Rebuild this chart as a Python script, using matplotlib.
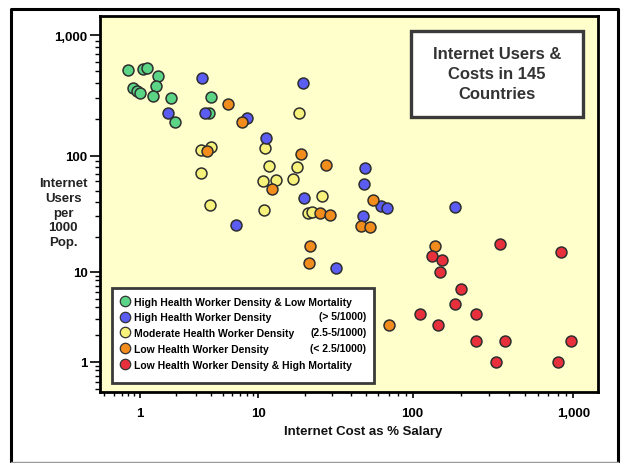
import numpy as np
import matplotlib
matplotlib.use('Agg')
import matplotlib.pyplot as plt
from matplotlib.lines import Line2D
from matplotlib.patches import Rectangle
from matplotlib.ticker import FixedLocator, FuncFormatter, NullFormatter

# --- internet cost (% of monthly salary) vs internet users per 1000 people, by health worker group

green_cost = [0.80, 1.07, 1.14, 1.43, 1.36, 0.87, 0.94, 1.0, 1.28, 1.82, 1.98, 3.96, 3.85]
green_users = [510, 522, 530, 457, 380, 364, 346, 333, 312, 299, 191, 305, 227]

blue_cost = [3.36, 1.73, 3.56, 8.03, 19.6, 11.3, 19.7, 6.44, 49.1, 48.2, 62.0, 67.9, 182.6, 47.9, 31.7]
blue_users = [438, 224, 227, 205, 400, 139, 43.2, 25.1, 78.8, 56.7, 37.1, 35.6, 35.9, 30.0, 10.8]

yellow_cost = [18.3, 3.28, 4.01, 11.1, 3.28, 11.8, 17.7, 10.7, 13.0, 16.9, 3.91, 10.9, 25.9, 21.1, 22.2]
yellow_users = [226, 112, 117, 116, 70.5, 81.5, 79.9, 60.9, 61.7, 62.6, 37.8, 33.8, 44.9, 32.3, 32.9]

orange_cost = [5.58, 7.24, 3.66, 18.9, 12.2, 27.4, 55.1, 25.1, 29.3, 46.2, 52.7, 21.5, 21.2, 138.2, 69.9]
orange_users = [268, 191, 110, 103, 51.9, 83.2, 41.8, 32.1, 31.0, 24.9, 24.1, 16.6, 11.8, 16.6, 2.54]

red_cost = [132.5, 152.9, 147.2, 351, 838, 200.7, 184.2, 111.0, 247.8, 143.7, 246.8, 375.5, 967.6, 328.7, 799.6]
red_users = [13.7, 12.7, 9.85, 17.4, 14.7, 6.42, 4.34, 3.39, 3.39, 2.54, 1.71, 1.71, 1.71, 0.985, 0.985]

labels = ['High Health Worker Density & Low Mortality',
          'High Health Worker Density',
          'Moderate Health Worker Density',
          'Low Health Worker Density',
          'Low Health Worker Density & High Mortality']
notes = ['', '(> 5/1000)', '(2.5-5/1000)', '(< 2.5/1000)', '']
colors = ['#5cd486', '#5a5cf2', '#f7f27c', '#f28c1c', '#e8303c']

# drawing order (later groups sit on top)
groups = [(green_cost, green_users, colors[0]),
          (yellow_cost, yellow_users, colors[2]),
          (blue_cost, blue_users, colors[1]),
          (orange_cost, orange_users, colors[3]),
          (red_cost, red_users, colors[4])]

BOLD = ['Liberation Sans', 'DejaVu Sans']


def decade_scale(widths):
    # log axis whose three decades get their own widths
    lk = np.array([-4.0, 0, 1, 2, 3, 7])
    w0, w1, w2 = widths
    sk = np.array([-4 * w0, 0, w0, w0 + w1, w0 + w1 + w2, w0 + w1 + 5 * w2])

    def fwd(v):
        v = np.clip(np.asarray(v, float), 1e-4, None)
        return np.interp(np.log10(v), lk, sk)

    def inv(s):
        return 10 ** np.interp(s, sk, lk)
    return fwd, inv


fig = plt.figure(figsize=(6.23, 4.64), dpi=100)
ax = fig.add_axes([100 / 623, 71 / 464, 498 / 623, 376 / 464])
ax.set_facecolor('#ffffcc')

ax.set_xscale('function', functions=decade_scale([118.3, 154.4, 160.6]))
ax.set_yscale('function', functions=decade_scale([90, 116, 120.7]))
ax.set_xlim(0.46, 1425)
ax.set_ylim(0.46, 1437)

for cost, users, col in groups:
    ax.scatter(cost, users, s=62, c=col, edgecolors='#2e2e2e', linewidths=1.1, zorder=3)

majors = [1, 10, 100, 1000]
minors = [m * 10.0 ** d for d in range(-1, 4) for m in range(2, 10)]
for axis in (ax.xaxis, ax.yaxis):
    axis.set_major_locator(FixedLocator(majors))
    axis.set_minor_locator(FixedLocator(minors))
    axis.set_major_formatter(FuncFormatter(lambda v, p: f'{v:,.0f}'))
    axis.set_minor_formatter(NullFormatter())

ax.tick_params(axis='y', which='major', length=7, width=1.2, pad=2)
ax.tick_params(axis='y', which='minor', length=3.5, width=1.0)
ax.tick_params(axis='x', which='major', length=4.5, width=1.2, pad=6)
ax.tick_params(axis='x', which='minor', length=3, width=1.0)
for lab in ax.get_xticklabels() + ax.get_yticklabels():
    lab.set_family(BOLD)
    lab.set_fontweight('bold')
    lab.set_fontsize(9.5)

for sp in ax.spines.values():
    sp.set_linewidth(2)
    sp.set_color('black')

fig.text(363 / 623, 1 - 432 / 464, 'Internet Cost as % Salary', ha='center', va='center',
         family=BOLD, fontweight='bold', fontsize=9.5, color='#111111')
fig.text(63 / 623, 1 - 213.5 / 464, 'Internet\nUsers\nper\n1000\nPop.', ha='center', va='center',
         family=BOLD, fontweight='bold', fontsize=9.5, color='#222222', linespacing=1.32)

# title box
ax.add_patch(Rectangle((0.6245, 0.7306), 0.346, 0.2303, transform=ax.transAxes,
                       facecolor='white', edgecolor='#3a3a3a', linewidth=2.4, zorder=4))
ax.text(0.7966, 0.847, 'Internet Users &\nCosts in 145\nCountries', transform=ax.transAxes,
        ha='center', va='center', family=BOLD, fontweight='bold', fontsize=12,
        color='#333333', linespacing=1.4, zorder=5)

# legend box with the density ranges on the right
ax.add_patch(Rectangle((0.0247, 0.0239), 0.5255, 0.252, transform=ax.transAxes,
                       facecolor='white', edgecolor='#3a3a3a', linewidth=2.0, zorder=4))
handles = [Line2D([], [], marker='o', ls='', markersize=7.5, markerfacecolor=c,
                  markeredgecolor='#333333', markeredgewidth=0.9) for c in colors]
leg = ax.legend(handles, labels, loc='upper left', bbox_to_anchor=(0.0386, 0.2535),
                frameon=False, borderpad=0, borderaxespad=0, handlelength=1.1,
                handletextpad=0.35, labelspacing=0.55,
                prop={'family': BOLD, 'weight': 'bold', 'size': 7.5})
leg.set_zorder(6)
row_y = [301.7, 317.3, 333.3, 349, 365]
for note, py in zip(notes, row_y):
    if note:
        ax.text(0.5347, (393 - py) / 376, note, transform=ax.transAxes, ha='right', va='center',
                family=BOLD, fontweight='bold', fontsize=7.5, zorder=6)

# outer frame
fig.add_artist(Line2D([10.5 / 623, 10.5 / 623, 618 / 623, 618 / 623],
                      [1 - 462.5 / 464, 1 - 9.5 / 464, 1 - 9.5 / 464, 1 - 462.5 / 464],
                      color='black', linewidth=2.2))
fig.add_artist(Line2D([10.5 / 623, 618 / 623], [1 - 462.5 / 464, 1 - 462.5 / 464],
                      color='#999999', linewidth=1.0))

fig.savefig('out.png', dpi=100)
